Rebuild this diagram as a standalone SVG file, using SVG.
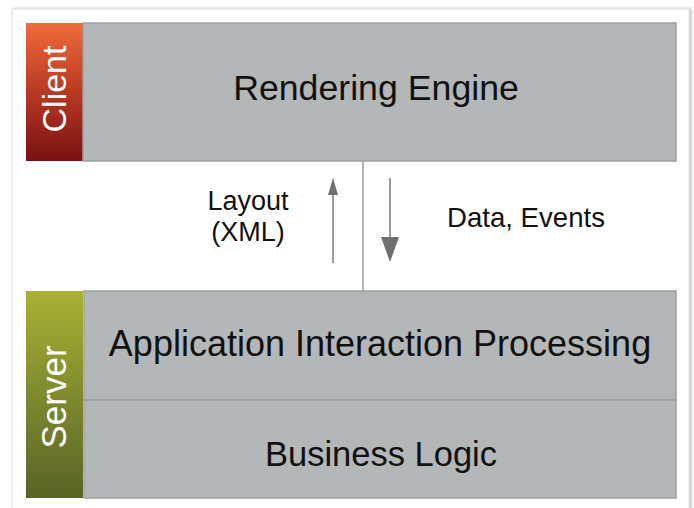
<svg xmlns="http://www.w3.org/2000/svg" width="694" height="508" viewBox="0 0 694 508">
  <defs>
    <linearGradient id="gClient" x1="0" y1="0" x2="0" y2="1">
      <stop offset="0" stop-color="#f06a3b"/>
      <stop offset="0.5" stop-color="#b83a22"/>
      <stop offset="1" stop-color="#7a1014"/>
    </linearGradient>
    <linearGradient id="gServer" x1="0" y1="0" x2="0" y2="1">
      <stop offset="0" stop-color="#a9b233"/>
      <stop offset="0.5" stop-color="#7f8a2e"/>
      <stop offset="1" stop-color="#5a6327"/>
    </linearGradient>
    <filter id="shadow" x="-5%" y="-5%" width="110%" height="110%">
      <feDropShadow dx="2" dy="0" stdDeviation="1.5" flood-color="#000" flood-opacity="0.25"/>
    </filter>
  </defs>
  <style>
    .box { fill: #b4b7b8; stroke: #9c9fa0; stroke-width: 1.5; }
    .lbl { font-family: "Liberation Sans", Arial, sans-serif; fill: #111; text-anchor: middle; }
    .side { font-family: "Liberation Sans", Arial, sans-serif; fill: #ffffff; text-anchor: middle; }
    .conn { stroke: #7a7a7a; stroke-width: 1.5; fill: none; }
    .head { fill: #6f7070; }
  </style>
  <rect x="0" y="0" width="694" height="508" fill="#ffffff"/>
  <rect x="12" y="9" width="677" height="510" fill="#ffffff" stroke="#dcdcdc" stroke-width="1" filter="url(#shadow)"/>

  <g id="client">
    <rect x="26" y="23" width="57" height="138" fill="url(#gClient)"/>
    <text class="side" font-size="34" transform="translate(66,89) rotate(-90)">Client</text>
  </g>
  <g id="rendering-engine">
    <rect class="box" x="83" y="23" width="593" height="138"/>
    <text class="lbl" font-size="35.7" x="376" y="100">Rendering Engine</text>
  </g>

  <g id="server">
    <rect x="26" y="291" width="57" height="207" fill="url(#gServer)"/>
    <text class="side" font-size="35" transform="translate(66,397) rotate(-90)">Server</text>
  </g>
  <g id="application-interaction-processing">
    <rect class="box" x="84" y="291" width="592" height="109"/>
    <text class="lbl" font-size="36" x="380" y="356">Application Interaction Processing</text>
  </g>
  <g id="business-logic">
    <rect class="box" x="84" y="400" width="592" height="98"/>
    <text class="lbl" font-size="34.5" x="381" y="466">Business Logic</text>
  </g>

  <g id="connectors">
    <line x1="363" y1="161" x2="363" y2="291" stroke="#9a9a9a" stroke-width="1.5"/>
    <line class="conn" x1="333" y1="194" x2="333" y2="263"/>
    <polygon class="head" points="333,178 338,195 328,195"/>
    <line class="conn" x1="390" y1="178" x2="390" y2="240"/>
    <polygon class="head" points="381,237 399,237 390,262"/>
    <text class="lbl" font-size="27" x="248" y="210">Layout</text>
    <text class="lbl" font-size="27" x="248" y="241">(XML)</text>
    <text class="lbl" font-size="27.6" x="526" y="227">Data, Events</text>
  </g>
</svg>
